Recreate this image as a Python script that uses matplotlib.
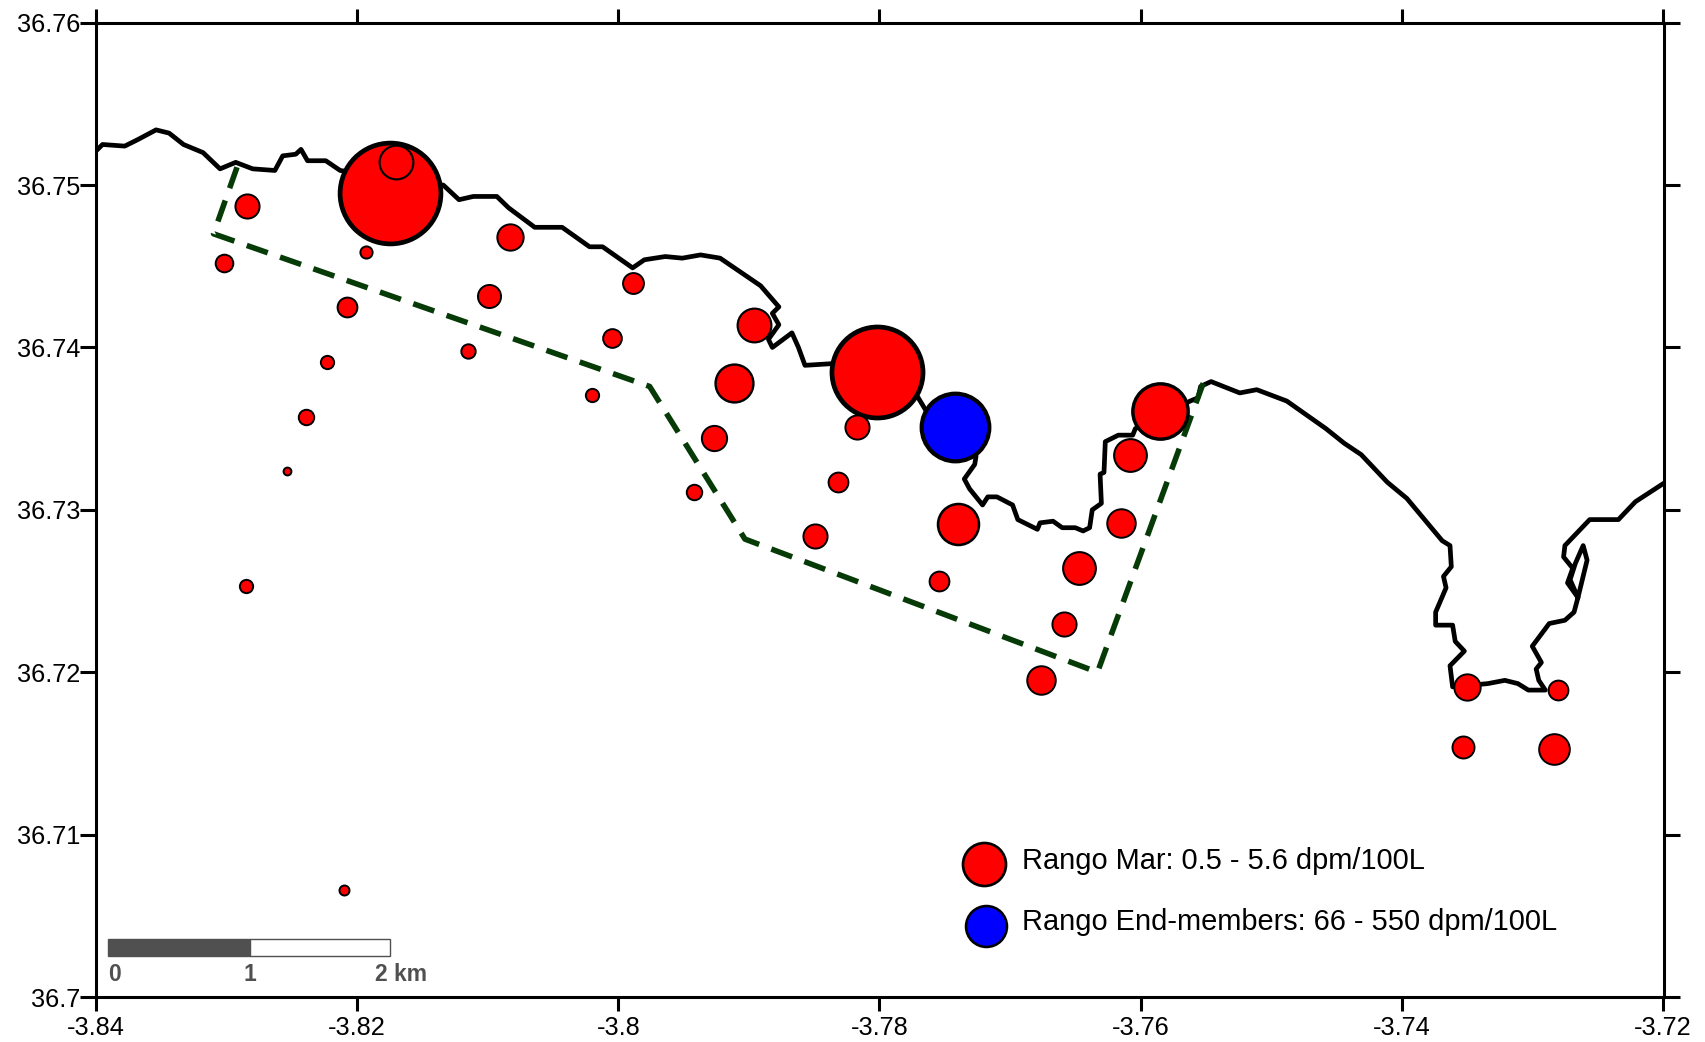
#!/usr/bin/env python
# -*- coding: utf-8 -*-

import numpy as np
import matplotlib
matplotlib.use('Agg')
import matplotlib.pyplot as plt
from matplotlib.patches import Rectangle

# Stations, sea range
sea_lon = [-3.8175, -3.8170, -3.8284, -3.8302, -3.8193, -3.8208, -3.8083, -3.8099, -3.8115, -3.8223,
	-3.8239, -3.8254, -3.8285, -3.8210, -3.7989, -3.8005, -3.8020, -3.7942, -3.7927, -3.7911,
	-3.7896, -3.7802, -3.7817, -3.7832, -3.7849, -3.7740, -3.7754, -3.7585, -3.7608, -3.7615,
	-3.7647, -3.7659, -3.7676, -3.7350, -3.7280, -3.7353, -3.7283]
sea_lat = [36.7495, 36.7514, 36.7487, 36.7452, 36.7459, 36.7425, 36.7468, 36.7432, 36.7398, 36.7391,
	36.7357, 36.7324, 36.7253, 36.7066, 36.7440, 36.7406, 36.7371, 36.7311, 36.7344, 36.7378,
	36.7414, 36.7385, 36.7351, 36.7317, 36.7284, 36.7291, 36.7256, 36.7361, 36.7334, 36.7292,
	36.7264, 36.7230, 36.7195, 36.7191, 36.7189, 36.7154, 36.7153]
sea_size = [97, 33, 24, 18, 13, 20, 26, 23, 15, 14,
	16, 9, 14, 11, 21, 19, 14, 16, 25, 37,
	33, 88, 24, 20, 24, 40, 20, 54, 32, 28,
	32, 24, 28, 26, 20, 22, 30]

# End-member station
end_lon = [-3.7742]
end_lat = [36.7351]
end_size = [66]

# Coastline
coast_lon = [-3.8400, -3.8395, -3.8378, -3.8368, -3.8354, -3.8344, -3.8333, -3.8318, -3.8305, -3.8293,
	-3.8280, -3.8263, -3.8257, -3.8247, -3.8243, -3.8238, -3.8224, -3.8213, -3.8134, -3.8122,
	-3.8111, -3.8093, -3.8084, -3.8064, -3.8043, -3.8022, -3.8012, -3.7989, -3.7980, -3.7964,
	-3.7951, -3.7937, -3.7922, -3.7891, -3.7877, -3.7882, -3.7877, -3.7885, -3.7882, -3.7867,
	-3.7862, -3.7857, -3.7837, -3.7771, -3.7765, -3.7726, -3.7727, -3.7735, -3.7731, -3.7721,
	-3.7717, -3.7710, -3.7698, -3.7694, -3.7679, -3.7677, -3.7667, -3.7660, -3.7650, -3.7644,
	-3.7639, -3.7637, -3.7630, -3.7631, -3.7628, -3.7627, -3.7617, -3.7606, -3.7604, -3.7562,
	-3.7556, -3.7554, -3.7546, -3.7524, -3.7511, -3.7488, -3.7458, -3.7444, -3.7431, -3.7411,
	-3.7396, -3.7369, -3.7363, -3.7362, -3.7368, -3.7366, -3.7374, -3.7374, -3.7361, -3.7359,
	-3.7352, -3.7363, -3.7361, -3.7334, -3.7321, -3.7311, -3.7303, -3.7290, -3.7295, -3.7297,
	-3.7293, -3.7300, -3.7287, -3.7275, -3.7268, -3.7265, -3.7258, -3.7261, -3.7267, -3.7271,
	-3.7265, -3.7273, -3.7269, -3.7276, -3.7275, -3.7256, -3.7234, -3.7221, -3.7200]
coast_lat = [36.7521, 36.7525, 36.7524, 36.7528, 36.7534, 36.7532, 36.7525, 36.7520, 36.7510, 36.7514,
	36.7510, 36.7509, 36.7518, 36.7519, 36.7522, 36.7515, 36.7515, 36.7509, 36.7500, 36.7491,
	36.7493, 36.7493, 36.7486, 36.7474, 36.7474, 36.7462, 36.7462, 36.7449, 36.7454, 36.7456,
	36.7455, 36.7457, 36.7455, 36.7438, 36.7425, 36.7421, 36.7414, 36.7405, 36.7400, 36.7409,
	36.7400, 36.7389, 36.7390, 36.7370, 36.7362, 36.7333, 36.7328, 36.7319, 36.7313, 36.7303,
	36.7308, 36.7308, 36.7303, 36.7294, 36.7288, 36.7292, 36.7293, 36.7289, 36.7289, 36.7287,
	36.7289, 36.7300, 36.7304, 36.7322, 36.7323, 36.7342, 36.7346, 36.7346, 36.7350, 36.7367,
	36.7369, 36.7376, 36.7379, 36.7372, 36.7374, 36.7367, 36.7350, 36.7341, 36.7334, 36.7317,
	36.7307, 36.7281, 36.7278, 36.7265, 36.7259, 36.7252, 36.7237, 36.7229, 36.7229, 36.7219,
	36.7213, 36.7204, 36.7191, 36.7193, 36.7195, 36.7193, 36.7189, 36.7189, 36.7195, 36.7202,
	36.7206, 36.7216, 36.7230, 36.7232, 36.7237, 36.7246, 36.7269, 36.7278, 36.7267, 36.7257,
	36.7246, 36.7255, 36.7264, 36.7271, 36.7278, 36.7294, 36.7294, 36.7305, 36.7316]

# Dashed study area
area_lon = [-3.8292, -3.8310, -3.7976, -3.7903, -3.7633, -3.7552]
area_lat = [36.7511, 36.7470, 36.7376, 36.7282, 36.7200, 36.7378]

# Axes ticks
x_ticks = [-3.84, -3.82, -3.80, -3.78, -3.76, -3.74, -3.72]
x_labels = ['-3.84', '-3.82', '-3.8', '-3.78', '-3.76', '-3.74', '-3.72']
y_ticks = [36.70, 36.71, 36.72, 36.73, 36.74, 36.75, 36.76]
y_labels = ['36.7', '36.71', '36.72', '36.73', '36.74', '36.75', '36.76']

# Legend and scale bar
legend_labels = ['Rango Mar: 0.5 - 5.6 dpm/100L', 'Rango End-members: 66 - 550 dpm/100L']
legend_lon = [-3.7720, -3.7718]
legend_lat = [36.7082, 36.7044]
legend_size = [42, 40]
bar_lon = [-3.8391, -3.8282, -3.8175]
bar_labels = ['0', '1', '2 km']


def draw_points(axes, lon, lat, size, color, zorder):
	size = np.array(size, dtype=float)
	# Big circles have a heavier outline
	width = 1.4 + 2.0 * np.clip((size - 30) / 45.0, 0, 1)
	points = size * 1.088 * 0.72 - width
	axes.scatter(lon, lat, s=points ** 2, c=color, edgecolors='black', linewidths=width, zorder=zorder)


if __name__ == '__main__':

	plt.rc('font', family='Liberation Sans')
	fig = plt.figure(figsize=(17.06, 10.42), dpi=100)
	axes = fig.add_axes([96 / 1706.0, 45 / 1042.0, 1568 / 1706.0, 974.3 / 1042.0])

	axes.plot(coast_lon, coast_lat, color='black', lw=3.4, solid_joinstyle='round', zorder=2)
	axes.plot(area_lon, area_lat, color='#063a06', lw=4, dashes=(4, 2.35), zorder=2)

	for i in range(len(sea_lon)):
		draw_points(axes, [sea_lon[i]], [sea_lat[i]], [sea_size[i]], 'red', 3 + i * 0.01)
	draw_points(axes, end_lon, end_lat, end_size, 'blue', 4)

	# Legend
	draw_points(axes, legend_lon[:1], legend_lat[:1], legend_size[:1], 'red', 4)
	draw_points(axes, legend_lon[1:], legend_lat[1:], legend_size[1:], 'blue', 4)
	for i in range(len(legend_labels)):
		axes.text(-3.7691, legend_lat[i] + 0.0002, legend_labels[i], fontsize=20.9,
			va='center', ha='left', color='black')

	# Scale bar
	bar_y = 36.7025
	bar_h = 0.0011
	axes.add_patch(Rectangle((bar_lon[0], bar_y), bar_lon[1] - bar_lon[0], bar_h, fc='#505050', ec='#505050', lw=1, zorder=3))
	axes.add_patch(Rectangle((bar_lon[1], bar_y), bar_lon[2] - bar_lon[1], bar_h, fc='white', ec='#505050', lw=1, zorder=3))
	axes.text(bar_lon[0], 36.7014, bar_labels[0], fontsize=16.5, fontweight='bold', color='#505050', ha='left', va='center')
	axes.text(bar_lon[1], 36.7014, bar_labels[1], fontsize=16.5, fontweight='bold', color='#505050', ha='center', va='center')
	axes.text(bar_lon[2] - 0.0011, 36.7014, bar_labels[2], fontsize=16.5, fontweight='bold', color='#505050', ha='left', va='center')

	axes.set_xlim(-3.84, -3.71991)
	axes.set_ylim(36.70, 36.76)
	axes.set_xticks(x_ticks)
	axes.set_xticklabels(x_labels)
	axes.set_yticks(y_ticks)
	axes.set_yticklabels(y_labels)
	axes.tick_params(axis='x', which='both', direction='out', length=10, width=2.2, labelsize=18.3, pad=3.5, top=True)
	axes.tick_params(axis='y', which='both', direction='out', length=11.5, width=2.2, labelsize=18.3, pad=0, right=True)
	for spine in axes.spines.values():
		spine.set_linewidth(2.2)

	plt.savefig('out.png', dpi=100)
